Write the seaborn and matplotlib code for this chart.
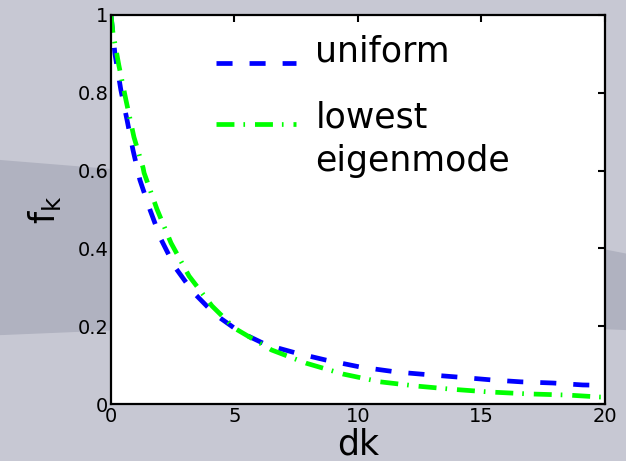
import numpy as np
import pandas as pd
import seaborn as sns
import matplotlib.pyplot as plt
from matplotlib.patches import Polygon
from matplotlib.legend_handler import HandlerLine2D

# values
uniform_k = [0, 0.16, 0.40, 0.65, 0.89, 1.17, 1.58, 2.02, 2.59, 3.32, 4.2, 5.22,
             6.3, 7.5, 8.7, 10.1, 11.6, 12.9, 14.1, 15.4, 16.6, 17.9, 19.1, 20]
uniform_f = [1.0, 0.90, 0.807, 0.73, 0.653, 0.576, 0.499, 0.424, 0.352, 0.288, 0.231, 0.185,
             0.152, 0.131, 0.113, 0.095, 0.082, 0.075, 0.069, 0.062, 0.057, 0.054, 0.049, 0.048]
lowest_k = [0, 0.08, 0.32, 0.61, 0.93, 1.30, 1.34, 1.86, 2.43, 3.16, 4.09, 5.0,
            6.5, 7.9, 9.4, 10.9, 12.4, 13.8, 15.3, 16.9, 18.5, 19.8, 20]
lowest_f = [1.0, 0.954, 0.87, 0.78, 0.686, 0.607, 0.594, 0.501, 0.414, 0.329, 0.252, 0.195,
            0.139, 0.105, 0.077, 0.057, 0.046, 0.038, 0.031, 0.026, 0.023, 0.018, 0.018]

labels = ['uniform', 'lowest\neigenmode']

df = pd.concat([
    pd.DataFrame({'dk': uniform_k, 'fk': uniform_f, 'mode': labels[0]}),
    pd.DataFrame({'dk': lowest_k, 'fk': lowest_f, 'mode': labels[1]}),
])


class ShiftedLine(HandlerLine2D):
    # legend handle moved up/down (points) from the text centre
    def __init__(self, dy, **kw):
        super().__init__(**kw)
        self.dy = dy

    def create_artists(self, legend, orig_handle, xdescent, ydescent,
                       width, height, fontsize, trans):
        return super().create_artists(legend, orig_handle, xdescent,
                                      ydescent - 2 * self.dy, width, height,
                                      fontsize, trans)


sns.set_style('white')
plt.rcParams['font.family'] = ['DejaVu Sans']
plt.rcParams['text.color'] = 'black'
plt.rcParams['axes.labelcolor'] = 'black'
plt.rcParams['xtick.color'] = 'black'
plt.rcParams['ytick.color'] = 'black'

fig = plt.figure(figsize=(6.26, 4.61), dpi=100)
fig.patch.set_facecolor('#c7c8d3')
# darker band of the slide background
band = Polygon([(0, 0.653), (0.3, 0.62), (0.7, 0.53), (1.0, 0.45),
                (1.0, 0.284), (0.7, 0.30), (0.3, 0.29), (0, 0.273)],
               closed=True, transform=fig.transFigure,
               facecolor='#b0b2c0', edgecolor='none', zorder=-5)
fig.patches.append(band)
ax = fig.add_axes([0.1773, 0.1236, 0.789, 0.844])
ax.set_facecolor('white')

sns.lineplot(data=df, x='dk', y='fk', hue='mode', style='mode',
             palette={labels[0]: '#0000ff', labels[1]: '#00ff00'},
             dashes={labels[0]: (3.4, 3.6), labels[1]: (3.8, 1.9, 0.35, 2.1)},
             linewidth=3.4, sort=False, ax=ax)
for ln in ax.get_lines():
    ln.set_dash_capstyle('butt')

ax.set_xlim(0, 20)
ax.set_ylim(0, 1)
ax.set_xticks([0, 5, 10, 15, 20])
ax.set_yticks([0, 0.2, 0.4, 0.6, 0.8, 1])
ax.set_yticklabels(['0', '0.2', '0.4', '0.6', '0.8', '1'])
ax.tick_params(direction='in', top=True, right=True, length=5, width=1.5,
               labelsize=14, pad=2)
for s in ax.spines.values():
    s.set_visible(True)
    s.set_linewidth(1.6)
    s.set_color('black')

ax.set_xlabel('dk', fontsize=25, labelpad=1)
ax.set_ylabel('f$_\\mathregular{k}$', fontsize=25, labelpad=10)

handles, names = ax.get_legend_handles_labels()
for h in handles:
    h.set_linewidth(3.4)
    h.set_dash_capstyle('butt')
leg = ax.legend(handles, names, frameon=False, loc='upper left',
                bbox_to_anchor=(0.15, 1.03), fontsize=25, handlelength=2.3,
                handletextpad=0.55, labelspacing=0.92,
                handler_map={handles[0]: ShiftedLine(-10),
                             handles[1]: ShiftedLine(12)})
leg.get_texts()[1].set_linespacing(1.35)

fig.savefig('out.png', dpi=100, facecolor=fig.get_facecolor())
